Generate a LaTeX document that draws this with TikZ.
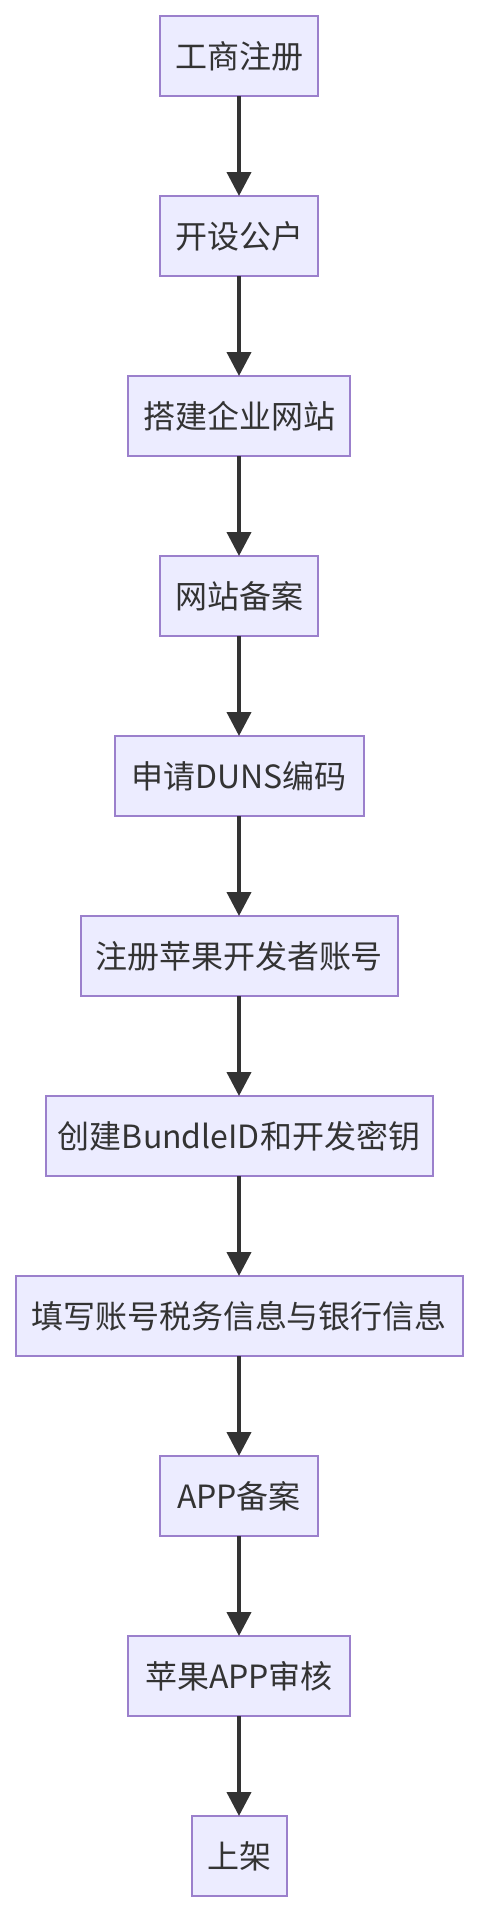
\documentclass[tikz,border=0pt]{standalone}
\usepackage{fontspec}
\newfontfamily\cjk{Noto Sans CJK SC}
\usetikzlibrary{positioning}
\usetikzlibrary{arrows.meta}
\definecolor{boxfill}{HTML}{ECECFF}
\definecolor{boxline}{HTML}{9B80CC}
\definecolor{ink}{HTML}{333333}
\tikzset{
    stepbox/.style = {rectangle,draw=boxline,fill=boxfill,line width=2pt,outer sep=0pt,minimum height=80pt,inner xsep=10pt,text=ink,font=\cjk\fontsize{32}{36}\selectfont},
    flow/.style = {draw=ink,line width=4pt,-{Triangle[width=24pt,length=24pt]}}}
\begin{document}
\begin{tikzpicture}[node distance=100pt]
    \useasboundingbox (0,0) rectangle (478pt,-1912pt);
    \node[stepbox,minimum width=158pt] (reg) at (239pt,-56pt) {工商注册};
    \node[stepbox,minimum width=158pt,below=of reg] (acct) {开设公户};
    \node[stepbox,minimum width=222pt,below=of acct] (site) {搭建企业网站};
    \node[stepbox,minimum width=158pt,below=of site] (icp) {网站备案};
    \node[stepbox,minimum width=249pt,below=of icp] (duns) {申请DUNS编码};
    \node[stepbox,minimum width=317pt,below=of duns] (devacct) {注册苹果开发者账号};
    \node[stepbox,minimum width=387pt,below=of devacct] (bundle) {创建BundleID和开发密钥};
    \node[stepbox,minimum width=447pt,below=of bundle] (tax) {填写账号税务信息与银行信息};
    \node[stepbox,minimum width=158pt,below=of tax] (appicp) {APP备案};
    \node[stepbox,minimum width=222pt,below=of appicp] (review) {苹果APP审核};
    \node[stepbox,minimum width=95pt,below=of review] (launch) {上架};
    \draw[flow] (reg) -- (acct);
    \draw[flow] (acct) -- (site);
    \draw[flow] (site) -- (icp);
    \draw[flow] (icp) -- (duns);
    \draw[flow] (duns) -- (devacct);
    \draw[flow] (devacct) -- (bundle);
    \draw[flow] (bundle) -- (tax);
    \draw[flow] (tax) -- (appicp);
    \draw[flow] (appicp) -- (review);
    \draw[flow] (review) -- (launch);
\end{tikzpicture}
\end{document}
